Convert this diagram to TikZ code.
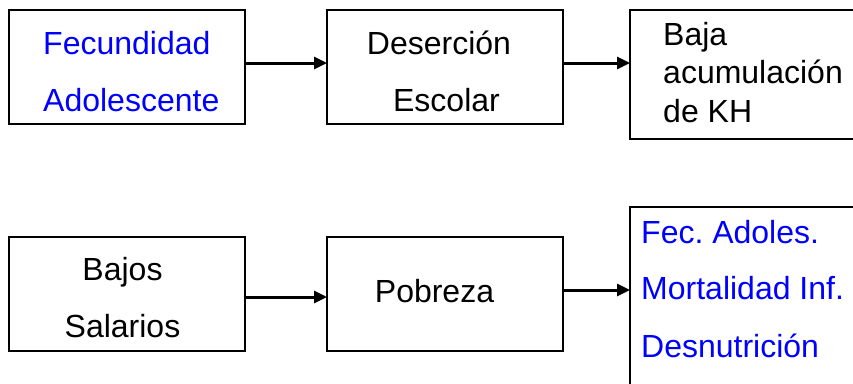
\documentclass[tikz,border=0pt]{standalone}
\usepackage{fontspec}
\setmainfont{Liberation Sans}
\usetikzlibrary{arrows.meta}
\definecolor{txtblue}{RGB}{0,0,255}
\frenchspacing
\begin{document}
\begin{tikzpicture}[x=1pt,y=-1pt,
  box/.style={draw=black,line width=2.6pt,fill=none,inner sep=0pt,outer sep=0pt},
  lbl/.style={anchor=base west,inner sep=0pt,font=\fontsize{32}{38}\selectfont},
  clbl/.style={anchor=base,inner sep=0pt,font=\fontsize{32}{38}\selectfont},
  arr/.style={line width=3pt,-{Triangle[length=13pt,width=12pt]}}]
\useasboundingbox (0,0) rectangle (853,383);
\clip (0,0) rectangle (853,383);
\fill[white] (0,0) rectangle (853,383);
% boxes
\node[box,minimum width=236pt,minimum height=114pt] (b1) at (127,67) {};
\node[box,minimum width=236pt,minimum height=114pt] (b2) at (445,67) {};
\node[box,minimum width=250pt,minimum height=129pt] (b3) at (755,74.5) {};
\node[box,minimum width=236pt,minimum height=114pt] (b4) at (127,294) {};
\node[box,minimum width=236pt,minimum height=114pt] (b5) at (445,294) {};
\node[box,minimum width=250pt,minimum height=220pt] (b6) at (755,317) {};
% texts
\node[lbl,text=txtblue] (t1a) at (43,54) {Fecundidad};
\node[lbl,text=txtblue] (t1b) at (43,111) {Adolescente};
\node[clbl] (t2a) at (439,54) {Deserción};
\node[clbl] (t2b) at (446.5,111) {Escolar};
\node[lbl] (t3a) at (663,45) {Baja};
\node[lbl] (t3b) at (663,83) {acumulación};
\node[lbl] (t3c) at (663,122) {de KH};
\node[clbl] (t4a) at (122.5,280) {Bajos};
\node[clbl] (t4b) at (122.5,337) {Salarios};
\node[clbl] (t5) at (434.5,302) {Pobreza};
\node[lbl,text=txtblue] (t6a) at (641,243) {Fec. Adoles.};
\node[lbl,text=txtblue] (t6b) at (641,299) {Mortalidad Inf.};
\node[lbl,text=txtblue] (t6c) at (641,357) {Desnutrición};
% arrows
\draw[arr] (b1.east |- 0,63) -- (b2.west |- 0,63);
\draw[arr] (b2.east |- 0,63) -- (b3.west |- 0,63);
\draw[arr] (b4.east |- 0,297) -- (b5.west |- 0,297);
\draw[arr] (b5.east |- 0,290) -- (b6.west |- 0,290);
\end{tikzpicture}
\end{document}
